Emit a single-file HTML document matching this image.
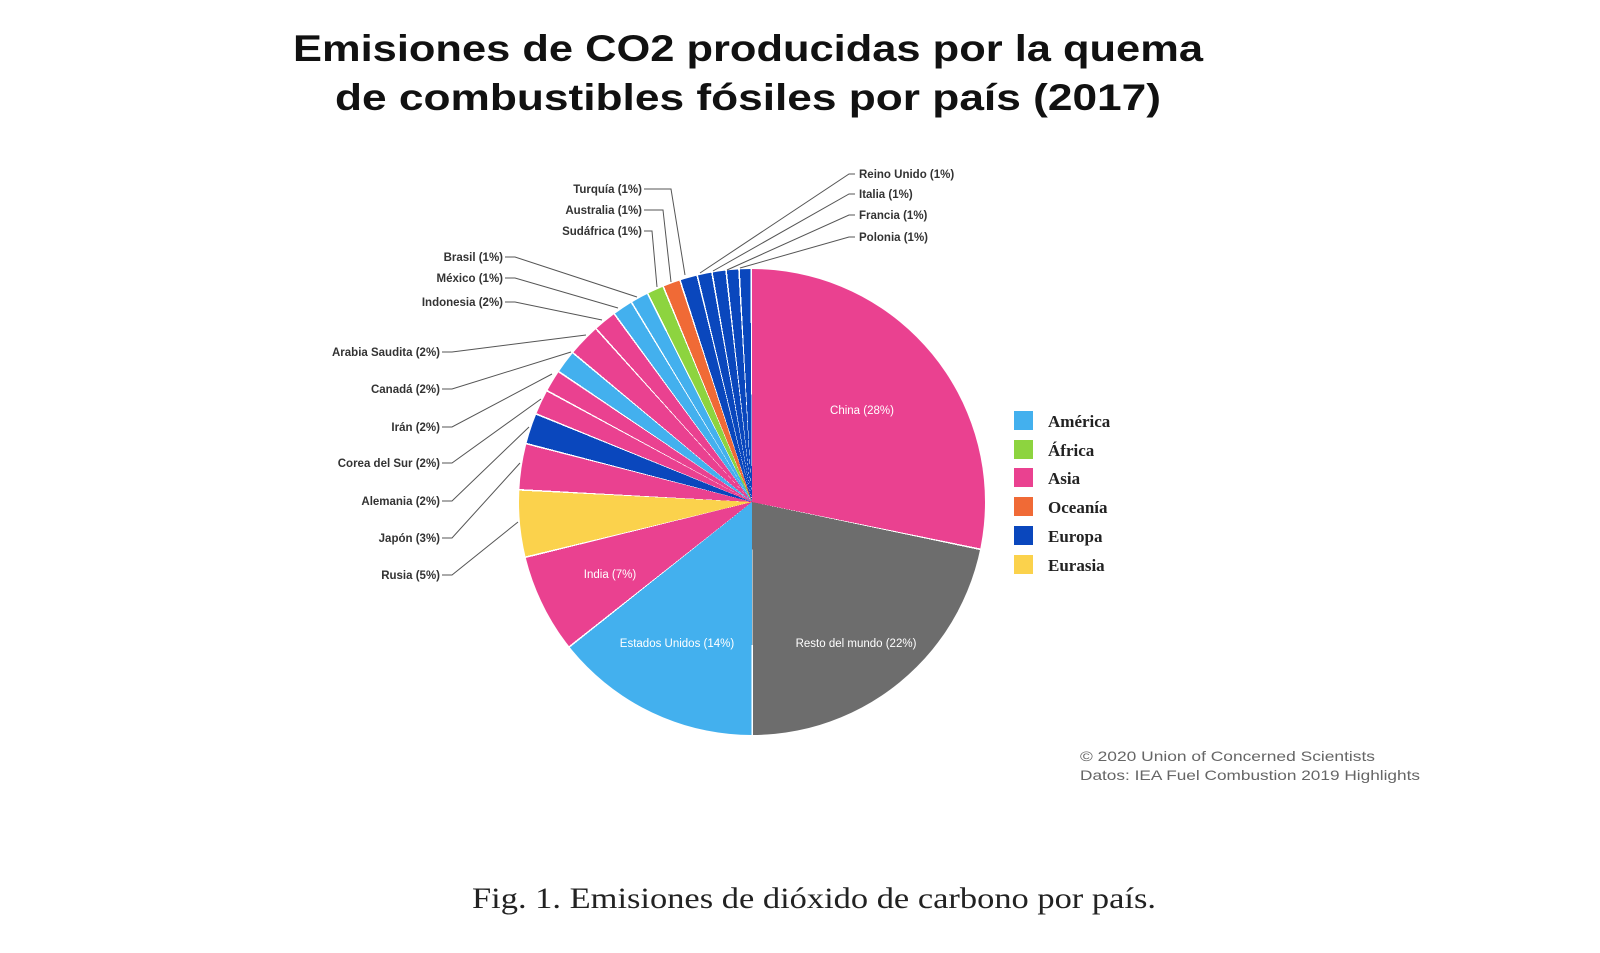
<!DOCTYPE html>
<html><head><meta charset="utf-8">
<style>
html,body{margin:0;padding:0;background:#fff;}
#wrap{position:relative;width:1600px;height:953px;overflow:hidden;background:#fff;}
#pie{position:absolute;left:519px;top:269px;width:466px;height:466px;border-radius:50%;
background:conic-gradient(
#ea4190 0deg 101.5deg,#fff 101.5deg 101.9deg,
#6d6d6d 101.9deg 179.7deg,#fff 179.7deg 180.1deg,
#43b0ee 180.1deg 231.4deg,#fff 231.4deg 231.8deg,
#ea4190 231.8deg 256.1deg,#fff 256.1deg 256.5deg,
#fbd24c 256.5deg 272.8deg,#fff 272.8deg 273.2deg,
#ea4190 273.2deg 284.3deg,#fff 284.3deg 284.7deg,
#0a47bd 284.7deg 292deg,#fff 292deg 292.4deg,
#ea4190 292.4deg 298.3deg,#fff 298.3deg 298.7deg,
#ea4190 298.7deg 303.8deg,#fff 303.8deg 304.2deg,
#43b0ee 304.2deg 309.6deg,#fff 309.6deg 310deg,
#ea4190 310deg 317.8deg,#fff 317.8deg 318.2deg,
#ea4190 318.2deg 323.6deg,#fff 323.6deg 324deg,
#43b0ee 324deg 328.7deg,#fff 328.7deg 329.1deg,
#43b0ee 329.1deg 333.2deg,#fff 333.2deg 333.6deg,
#8dd43f 333.6deg 337.4deg,#fff 337.4deg 337.8deg,
#f06a36 337.8deg 341.8deg,#fff 341.8deg 342.2deg,
#0a47bd 342.2deg 346.2deg,#fff 346.2deg 346.6deg,
#0a47bd 346.6deg 349.9deg,#fff 349.9deg 350.3deg,
#0a47bd 350.3deg 353.4deg,#fff 353.4deg 353.8deg,
#0a47bd 353.8deg 356.6deg,#fff 356.6deg 357deg,
#0a47bd 357deg 359.6deg,#fff 359.6deg 360deg);}
svg{position:absolute;left:0;top:0;}
.lb{font-family:"Liberation Sans",Arial,sans-serif;font-weight:bold;font-size:11.5px;fill:#333;}
.in{font-family:"Liberation Sans",Arial,sans-serif;font-size:11.5px;fill:#fff;}
.lg{font-family:"Liberation Serif",serif;font-weight:bold;font-size:17px;fill:#222;}
.cr{font-family:"Liberation Sans",Arial,sans-serif;font-size:14px;fill:#666;}
</style></head><body><div id="wrap">
<div id="pie"></div>
<svg width="1600" height="953" viewBox="0 0 1600 953">
<text x="748" y="61" text-anchor="middle" textLength="910" lengthAdjust="spacingAndGlyphs" style="font-family:'Liberation Sans',Arial,sans-serif;font-weight:bold;font-size:37px;fill:#111">Emisiones de CO2 producidas por la quema</text>
<text x="748" y="110" text-anchor="middle" textLength="826" lengthAdjust="spacingAndGlyphs" style="font-family:'Liberation Sans',Arial,sans-serif;font-weight:bold;font-size:37px;fill:#111">de combustibles fósiles por país (2017)</text>

<g stroke="#555" stroke-width="1" fill="none">
<polyline points="644,189 671,189 685,275"/>
<polyline points="644,210 663,210 671,282"/>
<polyline points="644,231 652,231 657,287"/>
<polyline points="505,257 515,257 637,297"/>
<polyline points="505,278 515,278 618,308"/>
<polyline points="505,302 515,302 602,320"/>
<polyline points="442,352 452,352 586,335"/>
<polyline points="442,389 452,389 571,352"/>
<polyline points="442,427 452,427 552,374"/>
<polyline points="442,463 452,463 541,399"/>
<polyline points="442,501 452,501 529,427"/>
<polyline points="442,538 452,538 520,463"/>
<polyline points="442,575 452,575 518,522"/>
<polyline points="855,174 849,174 700,273"/>
<polyline points="855,194 849,194 713,271"/>
<polyline points="855,215 849,215 727,270"/>
<polyline points="855,237 849,237 740,268"/>
</g>
<g class="lb" text-anchor="end">
<text x="642" y="193">Turquía (1%)</text>
<text x="642" y="214">Australia (1%)</text>
<text x="642" y="235">Sudáfrica (1%)</text>
<text x="503" y="261">Brasil (1%)</text>
<text x="503" y="282">México (1%)</text>
<text x="503" y="306">Indonesia (2%)</text>
<text x="440" y="356">Arabia Saudita (2%)</text>
<text x="440" y="393">Canadá (2%)</text>
<text x="440" y="431">Irán (2%)</text>
<text x="440" y="467">Corea del Sur (2%)</text>
<text x="440" y="505">Alemania (2%)</text>
<text x="440" y="542">Japón (3%)</text>
<text x="440" y="579">Rusia (5%)</text>
</g>
<g class="lb">
<text x="859" y="178">Reino Unido (1%)</text>
<text x="859" y="198">Italia (1%)</text>
<text x="859" y="219">Francia (1%)</text>
<text x="859" y="241">Polonia (1%)</text>
</g>
<g class="in" text-anchor="middle">
<text x="862" y="414">China (28%)</text>
<text x="856" y="647">Resto del mundo (22%)</text>
<text x="677" y="647">Estados Unidos (14%)</text>
<text x="610" y="578">India (7%)</text>
</g>
<rect x="1014" y="411" width="19" height="19" fill="#43b0ee"/>
<rect x="1014" y="440" width="19" height="19" fill="#8dd43f"/>
<rect x="1014" y="468" width="19" height="19" fill="#ea4190"/>
<rect x="1014" y="497" width="19" height="19" fill="#f06a36"/>
<rect x="1014" y="526" width="19" height="19" fill="#0a47bd"/>
<rect x="1014" y="555" width="19" height="19" fill="#fbd24c"/>
<g class="lg">
<text x="1048" y="427">América</text>
<text x="1048" y="456">África</text>
<text x="1048" y="484">Asia</text>
<text x="1048" y="513">Oceanía</text>
<text x="1048" y="542">Europa</text>
<text x="1048" y="571">Eurasia</text>
</g>
<text class="cr" x="1080" y="761" textLength="295" lengthAdjust="spacingAndGlyphs">© 2020 Union of Concerned Scientists</text>
<text class="cr" x="1080" y="780" textLength="340" lengthAdjust="spacingAndGlyphs">Datos: IEA Fuel Combustion 2019 Highlights</text>
<text x="814" y="908" text-anchor="middle" textLength="684" lengthAdjust="spacingAndGlyphs" style="font-family:'Liberation Serif',serif;font-size:30px;fill:#222">Fig. 1. Emisiones de dióxido de carbono por país.</text>
</svg>
</div></body></html>
